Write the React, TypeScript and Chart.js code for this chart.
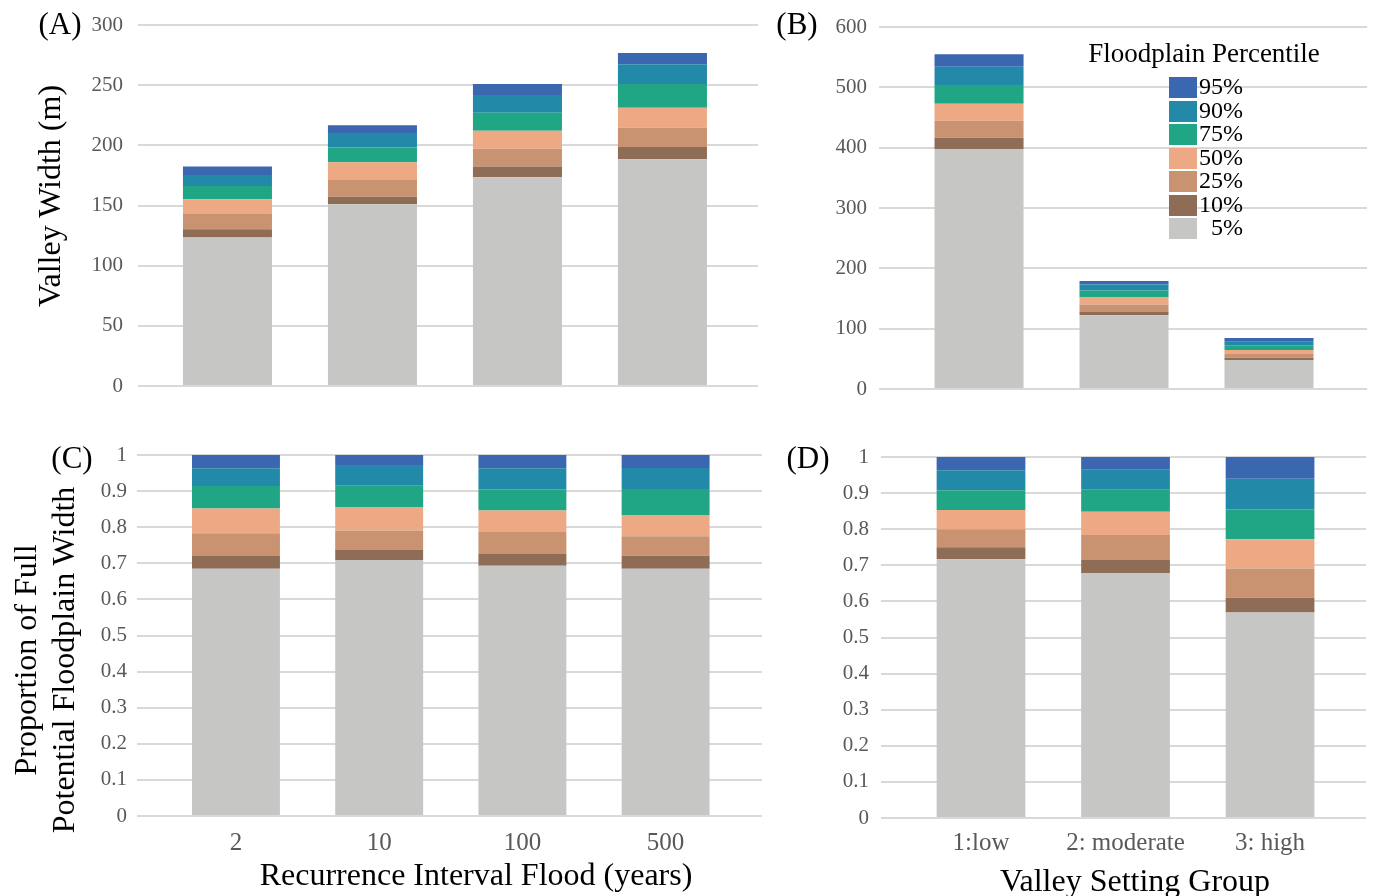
import React, { useEffect, useRef } from "react";
import { Chart, registerables } from "chart.js";

Chart.register(...registerables);

const SERIF = "'Liberation Serif', 'Times New Roman', Times, serif";
const TICK_COLOR = "#595959";
const GRID_COLOR = "#D9D9D9";

// Stack order bottom -> top
const percentileLabels = ["5%", "10%", "25%", "50%", "75%", "90%", "95%"];
const percentileColors = ["#C6C6C4", "#8F6C55", "#C99372", "#ECA983", "#21A685", "#2289A8", "#3A67B0"];

const recurrenceIntervals = ["2", "10", "100", "500"];
const valleyGroups = ["1:low", "2: moderate", "3: high"];

// (A) Valley width (m) by recurrence interval – stacked increments per percentile
const aP05 = [123.5, 151.0, 173.4, 188.4];
const aP10 = [6.7, 6.3, 9.1, 10.2];
const aP25 = [12.7, 13.9, 14.7, 16.1];
const aP50 = [12.2, 14.7, 15.0, 16.6];
const aP75 = [11.1, 12.2, 14.9, 19.7];
const aP90 = [9.1, 12.1, 14.7, 16.3];
const aP95 = [7.2, 6.4, 9.2, 9.4];

// (B) Valley width (m) by valley setting group
const bP05 = [397.7, 122.2, 48.1];
const bP10 = [18.8, 6.1, 3.9];
const bP25 = [28.2, 11.6, 6.1];
const bP50 = [28.2, 11.6, 6.6];
const bP75 = [31.0, 11.7, 7.8];
const bP90 = [30.4, 9.9, 6.0];
const bP95 = [20.5, 6.1, 6.1];

// (C) Proportion of full potential floodplain width by recurrence interval
const cP05 = [0.685, 0.709, 0.693, 0.685];
const cP10 = [0.035, 0.029, 0.034, 0.036];
const cP25 = [0.063, 0.053, 0.06, 0.054];
const cP50 = [0.069, 0.065, 0.059, 0.059];
const cP75 = [0.062, 0.059, 0.059, 0.072];
const cP90 = [0.049, 0.057, 0.058, 0.058];
const cP95 = [0.037, 0.028, 0.037, 0.036];

// (D) Proportion of full potential floodplain width by valley setting group
const dP05 = [0.717, 0.679, 0.569];
const dP10 = [0.033, 0.037, 0.041];
const dP25 = [0.05, 0.068, 0.081];
const dP50 = [0.053, 0.064, 0.081];
const dP75 = [0.055, 0.061, 0.083];
const dP90 = [0.055, 0.056, 0.085];
const dP95 = [0.037, 0.035, 0.06];

type Box = { left: number; top: number; right: number; bottom: number };

type PanelProps = {
  categories: string[];
  series: number[][];
  yMax: number;
  yStep: number;
  decimals: boolean;
  grid: Box;
  xMin: number;
  xMax: number;
  showX: boolean;
  yPad: number;
  xPad: number;
};

function StackPanel(p: PanelProps) {
  const ref = useRef<HTMLCanvasElement>(null);
  const W = 70;
  const TOP = 36;
  const RIGHT = 6;
  const HX = p.showX ? 46 : 0;
  const BOTTOM = p.showX ? 0 : 36;
  const cw = W + (p.grid.right - p.grid.left) + RIGHT;
  const ch = TOP + (p.grid.bottom - p.grid.top) + HX + BOTTOM;

  useEffect(() => {
    const datasets = p.series.map((vals, si) => ({
      label: percentileLabels[si],
      data: vals.map((v, i) => ({ x: i, y: v })),
      backgroundColor: percentileColors[si],
      borderWidth: 0,
      categoryPercentage: 1,
      barPercentage: 0.614,
    }));
    const chart = new Chart(ref.current as HTMLCanvasElement, {
      type: "bar",
      data: { datasets },
      options: {
        responsive: false,
        animation: false,
        devicePixelRatio: 1,
        layout: { padding: { top: TOP, right: RIGHT, bottom: BOTTOM, left: 0 } },
        plugins: { legend: { display: false }, tooltip: { enabled: false } },
        scales: {
          x: {
            type: "linear",
            stacked: true,
            offset: false,
            bounds: "data",
            grace: 0,
            min: p.xMin,
            max: p.xMax,
            grid: { display: false, offset: false },
            border: { display: false },
            ticks: {
              display: p.showX,
              autoSkip: false,
              maxRotation: 0,
              padding: p.xPad,
              color: TICK_COLOR,
              font: { family: SERIF, size: 25 },
              callback: (v: any) => p.categories[Math.round(Number(v))] ?? "",
            },
            afterBuildTicks: (s: any) => {
              s.ticks = p.categories.map((_, i) => ({ value: i }));
            },
            afterFit: (s: any) => {
              s.height = HX;
            },
          },
          y: {
            type: "linear",
            stacked: true,
            min: 0,
            max: p.yMax,
            grid: { color: GRID_COLOR, lineWidth: 2, drawTicks: false },
            border: { display: false },
            ticks: {
              stepSize: p.yStep,
              autoSkip: false,
              padding: p.yPad,
              color: TICK_COLOR,
              font: { family: SERIF, size: 21 },
              callback: (v: any) =>
                p.decimals ? String(Math.round(Number(v) * 10) / 10) : String(v),
            },
            afterFit: (s: any) => {
              s.width = W;
            },
          },
        },
      } as any,
    });
    return () => chart.destroy();
  }, []);

  return (
    <canvas
      ref={ref}
      width={cw}
      height={ch}
      style={{ position: "absolute", left: p.grid.left - W, top: p.grid.top - TOP, width: cw, height: ch }}
    />
  );
}

function Label(props: {
  text: string | string[];
  cx: number;
  cy: number;
  size: number;
  rotate?: boolean;
  lineHeight?: number;
}) {
  const lines = Array.isArray(props.text) ? props.text : [props.text];
  return (
    <div
      style={{
        position: "absolute",
        left: props.cx,
        top: props.cy,
        transform: `translate(-50%, -50%)${props.rotate ? " rotate(-90deg)" : ""}`,
        fontFamily: SERIF,
        fontSize: props.size,
        lineHeight: `${props.lineHeight ?? props.size}px`,
        color: "#000",
        whiteSpace: "nowrap",
        textAlign: "center",
      }}
    >
      {lines.map((l, i) => (
        <div key={i}>{l}</div>
      ))}
    </div>
  );
}

function Legend() {
  const rows = percentileLabels.map((l, i) => ({ label: l, color: percentileColors[i] })).reverse();
  return (
    <>
      <Label text="Floodplain Percentile" cx={1204} cy={53} size={27} />
      {rows.map((r, i) => {
        const top = 77 + i * 23.5;
        return (
          <React.Fragment key={r.label}>
            <div
              style={{
                position: "absolute",
                left: 1169,
                top,
                width: 28,
                height: 21,
                background: r.color,
              }}
            />
            <div
              style={{
                position: "absolute",
                left: 1190,
                top: top - 2,
                width: 53,
                height: 23,
                lineHeight: "23px",
                textAlign: "right",
                fontFamily: SERIF,
                fontSize: 24,
                color: "#000",
              }}
            >
              {r.label}
            </div>
          </React.Fragment>
        );
      })}
    </>
  );
}

export default function App() {
  return (
    <div
      style={{
        position: "absolute",
        left: 0,
        top: 0,
        width: 1374,
        height: 896,
        background: "#fff",
        overflow: "hidden",
      }}
    >
      <StackPanel
        categories={recurrenceIntervals}
        series={[aP05, aP10, aP25, aP50, aP75, aP90, aP95]}
        yMax={300}
        yStep={50}
        decimals={false}
        grid={{ left: 138, top: 25, right: 758, bottom: 386 }}
        xMin={-0.617}
        xMax={3.659}
        showX={false}
        yPad={15}
        xPad={4}
      />
      <StackPanel
        categories={valleyGroups}
        series={[bP05, bP10, bP25, bP50, bP75, bP90, bP95]}
        yMax={600}
        yStep={100}
        decimals={false}
        grid={{ left: 879, top: 27, right: 1367, bottom: 389 }}
        xMin={-0.69}
        xMax={2.676}
        showX={false}
        yPad={12}
        xPad={4}
      />
      <StackPanel
        categories={recurrenceIntervals}
        series={[cP05, cP10, cP25, cP50, cP75, cP90, cP95]}
        yMax={1}
        yStep={0.1}
        decimals={true}
        grid={{ left: 137, top: 455, right: 762, bottom: 816 }}
        xMin={-0.691}
        xMax={3.673}
        showX={true}
        yPad={10}
        xPad={4}
      />
      <StackPanel
        categories={valleyGroups}
        series={[dP05, dP10, dP25, dP50, dP75, dP90, dP95]}
        yMax={1}
        yStep={0.1}
        decimals={true}
        grid={{ left: 881, top: 457, right: 1366, bottom: 818 }}
        xMin={-0.692}
        xMax={2.664}
        showX={true}
        yPad={12}
        xPad={2}
      />

      <Label text="(A)" cx={60} cy={23} size={31} />
      <Label text="(B)" cx={797} cy={23} size={31} />
      <Label text="(C)" cx={72} cy={457} size={31} />
      <Label text="(D)" cx={808} cy={457} size={31} />

      <Label text="Valley Width (m)" cx={49} cy={196} size={32} rotate />
      <Label
        text={["Proportion of Full", "Potential Floodplain Width"]}
        cx={44}
        cy={660}
        size={32}
        lineHeight={38}
        rotate
      />
      <Label text="Recurrence Interval Flood (years)" cx={476} cy={874} size={32} />
      <Label text="Valley Setting Group" cx={1135} cy={880} size={32} />

      <Legend />
    </div>
  );
}
